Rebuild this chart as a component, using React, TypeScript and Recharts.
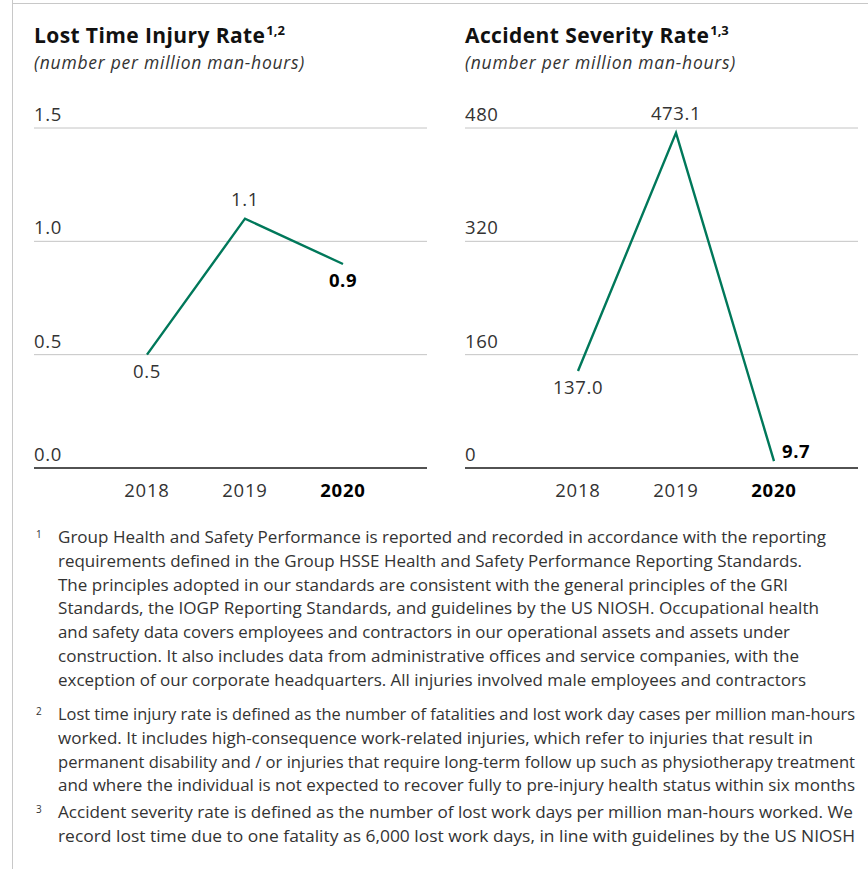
import React from "react"
import { CartesianGrid, LabelList, Line, LineChart, XAxis, YAxis } from "recharts"

const years = ["2018", "2019", "2020"]
const ltirValues = [0.5, 1.1, 0.9]
const ltirTicks = [0, 0.5, 1.0, 1.5]
const asrValues = [137.0, 473.1, 9.7]
const asrTicks = [0, 160, 320, 480]

const footnotes = [
  {
    mark: "1",
    lines: [
      "Group Health and Safety Performance is reported and recorded in accordance with the reporting",
      "requirements defined in the Group HSSE Health and Safety Performance Reporting Standards.",
      "The principles adopted in our standards are consistent with the general principles of the GRI",
      "Standards, the IOGP Reporting Standards, and guidelines by the US NIOSH. Occupational health",
      "and safety data covers employees and contractors in our operational assets and assets under",
      "construction. It also includes data from administrative offices and service companies, with the",
      "exception of our corporate headquarters. All injuries involved male employees and contractors",
    ],
  },
  {
    mark: "2",
    lines: [
      "Lost time injury rate is defined as the number of fatalities and lost work day cases per million man-hours",
      "worked. It includes high-consequence work-related injuries, which refer to injuries that result in",
      "permanent disability and / or injuries that require long-term follow up such as physiotherapy treatment",
      "and where the individual is not expected to recover fully to pre-injury health status within six months",
    ],
  },
  {
    mark: "3",
    lines: [
      "Accident severity rate is defined as the number of lost work days per million man-hours worked. We",
      "record lost time due to one fatality as 6,000 lost work days, in line with guidelines by the US NIOSH",
    ],
  },
]

// layout of the footnote block: right edge of each line and first baseline of each note
const footnoteLineEnds = [
  [826, 802, 788, 819, 790, 799, 806],
  [855, 813, 855, 855],
  [853, 855],
]
const footnoteTops = [543, 720, 818]

const GREEN = "#00785a"
const FONT = "'Open Sans', 'Noto Sans', sans-serif"
const TEXT = "#333"
const NUM_SIZE = 18.5

type Place = "above" | "below" | "right"

function XTick(props: any) {
  const { x, y, payload, index } = props
  const last = index === years.length - 1
  return (
    <text
      x={x}
      y={y + 21}
      textAnchor="middle"
      fontSize={NUM_SIZE}
      fontFamily={FONT}
      fontWeight={last ? 700 : 400}
      fill={last ? "#000" : TEXT}
      letterSpacing={0.8}
    >
      {payload.value}
    </text>
  )
}

function makeLabel(values: number[], places: Place[], digits: number) {
  return (props: any) => {
    const { x, y, index } = props
    const last = index === values.length - 1
    const place = places[index]
    let tx = x
    let ty = y
    let anchor: "middle" | "start" = "middle"
    if (place === "above") ty = y - 13
    if (place === "below") ty = y + 23
    if (place === "right") {
      tx = x + 8
      ty = y - 3
      anchor = "start"
    }
    return (
      <text
        x={tx}
        y={ty}
        textAnchor={anchor}
        fontSize={NUM_SIZE}
        fontFamily={FONT}
        fontWeight={last ? 700 : 400}
        fill={last ? "#000" : TEXT}
        letterSpacing={0.6}
      >
        {values[index].toFixed(digits)}
      </text>
    )
  }
}

function Panel({
  title,
  sup,
  values,
  ticks,
  fmt,
  places,
  digits,
  left,
}: {
  title: string
  sup: string
  values: number[]
  ticks: number[]
  fmt: (v: number) => string
  places: Place[]
  digits: number
  left: number
}) {
  const data = years.map((y, i) => ({ year: y, value: values[i] }))
  const plotLeft = 22
  return (
    <div style={{ position: "absolute", left, top: 0, width: 430, height: 510 }}>
      <div
        style={{
          position: "absolute",
          left: 22,
          top: 21,
          fontFamily: FONT,
          fontWeight: 700,
          fontSize: 21,
          color: "#111",
          whiteSpace: "nowrap",
          letterSpacing: 0.4,
        }}
      >
        {title}
        <sup style={{ fontSize: 13, verticalAlign: "top", position: "relative", top: 0, letterSpacing: 0, marginLeft: 1 }}>
          {sup}
        </sup>
      </div>
      <div
        style={{
          position: "absolute",
          left: 22,
          top: 50,
          fontFamily: FONT,
          fontStyle: "italic",
          fontSize: 17.5,
          color: TEXT,
          whiteSpace: "nowrap",
          letterSpacing: 0.75,
        }}
      >
        (number per million man-hours)
      </div>
      <LineChart
        width={430}
        height={510}
        data={data}
        margin={{ top: 128, right: 15, bottom: 12, left: 0 }}
        style={{ position: "absolute", left: 0, top: 0 }}
      >
        <CartesianGrid horizontal vertical={false} stroke="#c4c4c4" strokeWidth={1} />
        <XAxis
          dataKey="year"
          height={30}
          padding={{ left: 113, right: 84 }}
          axisLine={{ stroke: "#222", strokeWidth: 1.5 }}
          tickLine={false}
          tick={<XTick />}
        />
        <YAxis
          width={plotLeft}
          domain={[ticks[0], ticks[ticks.length - 1]]}
          ticks={ticks}
          axisLine={false}
          tickLine={false}
          interval={0}
          tick={(p: any) => (
            <text
              key={p.index}
              x={plotLeft}
              y={p.y - 7}
              fill={TEXT}
              fontSize={NUM_SIZE}
              fontFamily={FONT}
              textAnchor="start"
              letterSpacing={0.6}
            >
              {fmt(p.payload.value)}
            </text>
          )}
        />
        <Line
          dataKey="value"
          type="linear"
          stroke={GREEN}
          strokeWidth={2.4}
          dot={false}
          activeDot={false}
          isAnimationActive={false}
        >
          <LabelList dataKey="value" content={makeLabel(values, places, digits)} />
        </Line>
      </LineChart>
    </div>
  )
}

function Footnotes() {
  const textX = 58
  const step = 23.75
  return (
    <svg width={868} height={869} style={{ position: "absolute", left: 0, top: 0 }}>
      {footnotes.map((f, i) => (
        <g key={f.mark} fontFamily={FONT} fill={TEXT}>
          <text x={36} y={footnoteTops[i] - 5} fontSize={10}>
            {f.mark}
          </text>
          {f.lines.map((l, j) => (
            <text
              key={j}
              x={textX}
              y={footnoteTops[i] + j * step}
              fontSize={16.5}
              textLength={footnoteLineEnds[i][j] - textX}
              lengthAdjust="spacingAndGlyphs"
            >
              {l}
            </text>
          ))}
        </g>
      ))}
    </svg>
  )
}

export default function App() {
  return (
    <div
      style={{
        position: "absolute",
        left: 0,
        top: 0,
        width: 868,
        height: 869,
        background: "#fff",
        overflow: "hidden",
      }}
    >
      <div style={{ position: "absolute", left: 12, top: 0, width: 1, height: 869, background: "#c8c8c8" }} />
      <div style={{ position: "absolute", left: 12, top: 3, width: 856, height: 1, background: "#c8c8c8" }} />
      <Footnotes />
      <Panel
        title="Lost Time Injury Rate"
        sup="1,2"
        values={ltirValues}
        ticks={ltirTicks}
        fmt={(v) => v.toFixed(1)}
        places={["below", "above", "below"]}
        digits={1}
        left={12}
      />
      <Panel
        title="Accident Severity Rate"
        sup="1,3"
        values={asrValues}
        ticks={asrTicks}
        fmt={(v) => String(v)}
        places={["below", "above", "right"]}
        digits={1}
        left={443}
      />
    </div>
  )
}
